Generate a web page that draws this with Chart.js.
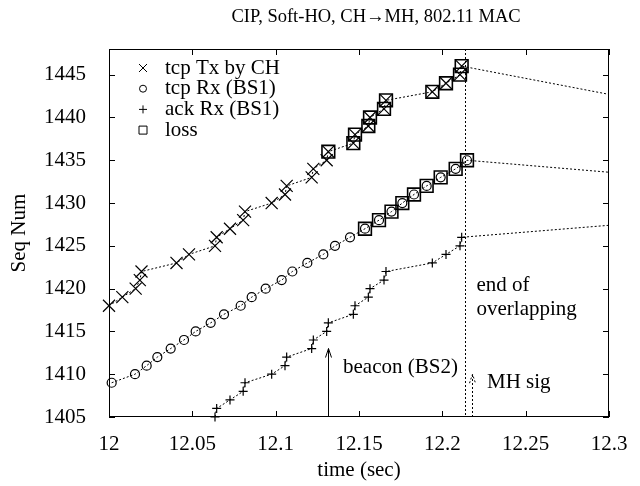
<!DOCTYPE html>
<html>
<head>
<meta charset="utf-8">
<script src="https://cdn.jsdelivr.net/npm/chart.js@4/dist/chart.umd.min.js"></script>
<style>
  html, body { margin: 0; padding: 0; background: #fff; }
</style>
</head>
<body>
<canvas id="grafico" width="640" height="486"></canvas>
<script>
// Datos (tiempo en s, número de secuencia)
const txTiempos = [12.000, 12.008, 12.016, 12.0185, 12.0195, 12.0405, 12.048, 12.0636, 12.0646, 12.0726,
                   12.0805, 12.0816, 12.0976, 12.1056, 12.1066, 12.1216, 12.1226, 12.1306, 12.1316, 12.1466,
                   12.1476, 12.1556, 12.1566, 12.165, 12.1662, 12.194, 12.2022, 12.2106, 12.2116];
const txSeq = [1418, 1419, 1420, 1421, 1422, 1423, 1424, 1425, 1426, 1427,
               1428, 1429, 1430, 1431, 1432, 1433, 1434, 1435, 1436, 1437,
               1438, 1439, 1440, 1441, 1442, 1443, 1444, 1445, 1446];

const rxTiempos = [12.0016, 12.0156, 12.0226, 12.029, 12.037, 12.045, 12.052, 12.061, 12.069, 12.079,
                   12.0856, 12.094, 12.1036, 12.110, 12.119, 12.1286, 12.1356, 12.1446, 12.1536, 12.162,
                   12.1695, 12.176, 12.183, 12.1906, 12.199, 12.208, 12.2148];
const rxSeq = [1409, 1410, 1411, 1412, 1413, 1414, 1415, 1416, 1417, 1418,
               1419, 1420, 1421, 1422, 1423, 1424, 1425, 1426, 1427, 1428,
               1429, 1430, 1431, 1432, 1433, 1434, 1435];

const ackTiempos = [12.0636, 12.0646, 12.0726, 12.0805, 12.0816, 12.0976, 12.1056, 12.1066, 12.1216, 12.1226,
                    12.1306, 12.1316, 12.1466, 12.1476, 12.1556, 12.1566, 12.165, 12.1662, 12.194, 12.2022,
                    12.2106, 12.2116];
const ackSeq = [1405, 1406, 1407, 1408, 1409, 1410, 1411, 1412, 1413, 1414,
                1415, 1416, 1417, 1418, 1419, 1420, 1421, 1422, 1423, 1424,
                1425, 1426];

// Continuación de cada serie hasta el borde derecho (sin marcador)
const colaTiempo = 12.3;
const colaSeq = [1442.7, 1433.6, 1427.4]; // tx, rx, ack

// Pérdidas: secuencias marcadas con un cuadrado
const perdidasTx = [1436, 1437, 1438, 1439, 1440, 1441, 1442, 1443, 1444, 1445, 1446];
const perdidasRx = [1427, 1428, 1429, 1430, 1431, 1432, 1433, 1434, 1435];

// Ejes
const xTicks = [12, 12.05, 12.1, 12.15, 12.2, 12.25, 12.3];
const xTickLabels = ['12', '12.05', '12.1', '12.15', '12.2', '12.25', '12.3'];
const yTicks = [1405, 1410, 1415, 1420, 1425, 1430, 1435, 1440, 1445];
const xMin = 12, xMax = 12.3, yMin = 1405, yMax = 1448;

// Anotaciones
const finSolape = 12.2135;
const beaconTiempo = 12.1316, beaconSeq = 1413;
const mhSigTiempo = 12.218, mhSigSeq = 1410;

const fuente = '"Liberation Serif", "DejaVu Serif", serif';

function puntos(tiempos, seqs) {
    return tiempos.map((t, i) => ({ x: t, y: seqs[i] }));
}

const datosTx = puntos(txTiempos, txSeq).concat([{ x: colaTiempo, y: colaSeq[0] }]);
const datosRx = puntos(rxTiempos, rxSeq).concat([{ x: colaTiempo, y: colaSeq[1] }]);
const datosAck = puntos(ackTiempos, ackSeq).concat([{ x: colaTiempo, y: colaSeq[2] }]);
const datosPerdidas = perdidasTx.map(s => ({ x: txTiempos[txSeq.indexOf(s)], y: s }))
    .concat(perdidasRx.map(s => ({ x: rxTiempos[rxSeq.indexOf(s)], y: s })));

// radio 0 para el último punto (la cola)
function radioSinCola(r) {
    return ctx => (ctx.dataIndex === ctx.dataset.data.length - 1 ? 0 : r);
}

function marcador(ctx, estilo, x, y, r) {
    ctx.beginPath();
    if (estilo === 'x') {
        ctx.moveTo(x - r, y - r); ctx.lineTo(x + r, y + r);
        ctx.moveTo(x - r, y + r); ctx.lineTo(x + r, y - r);
    } else if (estilo === '+') {
        ctx.moveTo(x - r, y); ctx.lineTo(x + r, y);
        ctx.moveTo(x, y - r); ctx.lineTo(x, y + r);
    } else if (estilo === 'o') {
        ctx.arc(x, y, r, 0, Math.PI * 2);
    } else {
        ctx.rect(x - r, y - r, 2 * r, 2 * r);
    }
    ctx.stroke();
}

function flecha(ctx, x, y0, y1, discontinua) {
    ctx.save();
    ctx.setLineDash(discontinua ? [2, 2] : []);
    ctx.beginPath();
    ctx.moveTo(x, y0); ctx.lineTo(x, y1);
    ctx.moveTo(x - 3, y1 + 9); ctx.lineTo(x, y1); ctx.lineTo(x + 3, y1 + 9);
    ctx.stroke();
    ctx.restore();
}

const decoracion = {
    id: 'decoracion',
    afterDraw(chart) {
        const ctx = chart.ctx;
        const a = chart.chartArea;
        const xs = chart.scales.x, ys = chart.scales.y;
        ctx.save();
        ctx.strokeStyle = '#000';
        ctx.fillStyle = '#000';
        ctx.lineWidth = 1;

        // marco y marcas de escala hacia dentro
        ctx.strokeRect(a.left + 0.5, a.top + 0.5, a.right - a.left - 1, a.bottom - a.top - 1);
        ctx.beginPath();
        xTicks.forEach(v => {
            const px = Math.round(xs.getPixelForValue(v)) + 0.5;
            ctx.moveTo(px, a.bottom); ctx.lineTo(px, a.bottom - 6);
            ctx.moveTo(px, a.top); ctx.lineTo(px, a.top + 6);
        });
        yTicks.forEach(v => {
            const py = Math.round(ys.getPixelForValue(v)) + 0.5;
            ctx.moveTo(a.left, py); ctx.lineTo(a.left + 6, py);
            ctx.moveTo(a.right, py); ctx.lineTo(a.right - 6, py);
        });
        ctx.stroke();

        // fin del solapamiento
        const xf = Math.round(xs.getPixelForValue(finSolape)) + 0.5;
        ctx.save();
        ctx.setLineDash([2, 2]);
        ctx.beginPath();
        ctx.moveTo(xf, a.top); ctx.lineTo(xf, a.bottom);
        ctx.stroke();
        ctx.restore();

        // flechas
        flecha(ctx, Math.round(xs.getPixelForValue(beaconTiempo)) + 0.5, a.bottom, ys.getPixelForValue(beaconSeq), false);
        flecha(ctx, Math.round(xs.getPixelForValue(mhSigTiempo)) + 0.5, a.bottom, ys.getPixelForValue(mhSigSeq), true);

        // textos
        ctx.font = '21px ' + fuente;
        ctx.textAlign = 'left';
        ctx.textBaseline = 'middle';
        ctx.fillText('end of', xf + 11, ys.getPixelForValue(1420.4));
        ctx.fillText('overlapping', xf + 11, ys.getPixelForValue(1417.6));
        ctx.fillText('beacon (BS2)', xs.getPixelForValue(12.1404), ys.getPixelForValue(1410.8));
        ctx.fillText('MH sig', xs.getPixelForValue(12.2268), ys.getPixelForValue(1409));

        // leyenda
        const leyenda = [['x', 'tcp Tx by CH', 4], ['o', 'tcp Rx (BS1)', 3.5], ['+', 'ack Rx (BS1)', 4], ['r', 'loss', 4]];
        leyenda.forEach((l, i) => {
            const y = a.top + 19 + i * 20.7;
            marcador(ctx, l[0], a.left + 34, y, l[2]);
            ctx.fillText(l[1], a.left + 56, y);
        });

        // título
        ctx.textAlign = 'center';
        ctx.font = '18.5px ' + fuente;
        ctx.fillText('CIP, Soft-HO, CH\u2192MH, 802.11 MAC', 376, 17);
        ctx.restore();
    }
};

Chart.defaults.font.family = fuente;
Chart.defaults.font.size = 21;
Chart.defaults.color = '#000';

const lineaComun = {
    showLine: true,
    borderColor: '#000',
    borderWidth: 1,
    borderDash: [2, 2],
    pointBorderColor: '#000',
    pointBackgroundColor: 'rgba(0,0,0,0)',
    pointBorderWidth: 1.2,
    clip: false
};

new Chart(document.getElementById('grafico'), {
    type: 'scatter',
    data: {
        datasets: [
            Object.assign({ label: 'tcp Tx by CH', data: datosTx, pointStyle: 'crossRot', pointRadius: radioSinCola(8.5) }, lineaComun),
            Object.assign({ label: 'tcp Rx (BS1)', data: datosRx, pointStyle: 'circle', pointRadius: radioSinCola(4.5) }, lineaComun),
            Object.assign({ label: 'ack Rx (BS1)', data: datosAck, pointStyle: 'cross', pointRadius: radioSinCola(4.5) }, lineaComun),
            {
                label: 'loss',
                data: datosPerdidas,
                showLine: false,
                pointStyle: 'rect',
                pointRadius: 9,
                pointBorderColor: '#000',
                pointBackgroundColor: 'rgba(0,0,0,0)',
                pointBorderWidth: 1.6,
                clip: false
            }
        ]
    },
    options: {
        responsive: false,
        animation: false,
        events: [],
        layout: { padding: { top: 49, right: 31, left: 0, bottom: 0 } },
        plugins: {
            legend: { display: false },
            tooltip: { enabled: false }
        },
        scales: {
            x: {
                type: 'linear',
                min: xMin,
                max: xMax,
                grid: { display: false },
                border: { display: false },
                afterBuildTicks: scale => { scale.ticks = xTicks.map(v => ({ value: v })); },
                afterFit: scale => { scale.height = 69; },
                ticks: {
                    autoSkip: false,
                    maxRotation: 0,
                    padding: 7,
                    callback: (v, i) => xTickLabels[i]
                },
                title: { display: true, text: 'time (sec)', padding: { top: 0, bottom: 3 } }
            },
            y: {
                type: 'linear',
                min: yMin,
                max: yMax,
                grid: { display: false },
                border: { display: false },
                afterBuildTicks: scale => { scale.ticks = yTicks.map(v => ({ value: v })); },
                afterFit: scale => { scale.width = 109; },
                ticks: {
                    padding: 15,
                    callback: v => String(v)
                },
                title: { display: true, text: 'Seq Num', padding: { top: 7, bottom: 0 } }
            }
        }
    },
    plugins: [decoracion]
});
</script>
</body>
</html>
